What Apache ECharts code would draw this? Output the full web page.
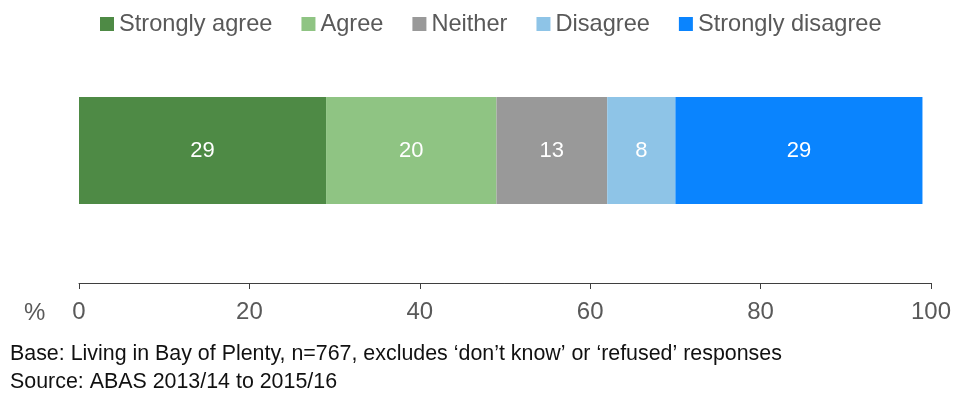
<!DOCTYPE html>
<html>
<head>
<meta charset="utf-8">
<script src="https://cdn.jsdelivr.net/npm/echarts@6/dist/echarts.min.js"></script>
<style>
  html, body { margin: 0; padding: 0; background: #fff; }
  #chart { width: 954px; height: 394px; }
</style>
</head>
<body>
<div id="chart"></div>
<script>
// Response shares (%) for Bay of Plenty residents
const categories = ['Bay of Plenty'];
const seriesNames = ['Strongly agree', 'Agree', 'Neither', 'Disagree', 'Strongly disagree'];
const stronglyAgree = [29];
const agree = [20];
const neither = [13];
const disagree = [8];
const stronglyDisagree = [29];
const seriesValues = [stronglyAgree, agree, neither, disagree, stronglyDisagree];
const seriesColors = ['#4e8a45', '#8fc483', '#999999', '#8ec4e7', '#0a84fe'];
const xTicks = [0, 20, 40, 60, 80, 100];

const FONT = '"Liberation Sans", Arial, sans-serif';
const chart = echarts.init(document.getElementById('chart'), null, { renderer: 'canvas' });

chart.setOption({
  animation: false,
  textStyle: { fontFamily: FONT },
  legend: {
    top: 12,
    left: 100,
    padding: 0,
    itemWidth: 14,
    itemHeight: 14,
    itemGap: 29,
    icon: 'rect',
    data: seriesNames,
    textStyle: { fontSize: 23.6, color: '#595959', fontFamily: FONT }
  },
  grid: { left: 79, right: 22, top: 18, bottom: 111, containLabel: false },
  xAxis: {
    type: 'value',
    min: xTicks[0],
    max: xTicks[xTicks.length - 1],
    interval: 20,
    splitLine: { show: false },
    axisLine: { show: true, lineStyle: { color: '#3f3f3f', width: 1 } },
    axisTick: { show: true, length: 6, lineStyle: { color: '#3f3f3f' } },
    axisLabel: { fontSize: 24, color: '#595959', margin: 17, fontFamily: FONT }
  },
  yAxis: {
    type: 'category',
    data: categories,
    axisLine: { show: false },
    axisTick: { show: false },
    axisLabel: { show: false }
  },
  series: seriesNames.map((name, i) => ({
    name: name,
    type: 'bar',
    stack: 'total',
    barWidth: 107,
    data: seriesValues[i],
    itemStyle: { color: seriesColors[i] },
    label: {
      show: true,
      position: 'inside',
      color: '#ffffff',
      fontSize: 22,
      fontFamily: FONT
    }
  })),
  graphic: [
    { type: 'text', x: 24, y: 313, style: { text: '%', fontSize: 24, fill: '#595959', fontFamily: FONT, verticalAlign: 'middle' } },
    { type: 'text', x: 10, y: 354, style: { text: 'Base: Living in Bay of Plenty, n=767, excludes \u2018don\u2019t know\u2019 or \u2018refused\u2019 responses', fontSize: 21.4, fill: '#111111', fontFamily: FONT, verticalAlign: 'middle' } },
    { type: 'text', x: 10, y: 382, style: { text: 'Source: ABAS 2013/14 to 2015/16', fontSize: 21.4, fill: '#111111', fontFamily: FONT, verticalAlign: 'middle' } }
  ]
});
</script>
</body>
</html>
